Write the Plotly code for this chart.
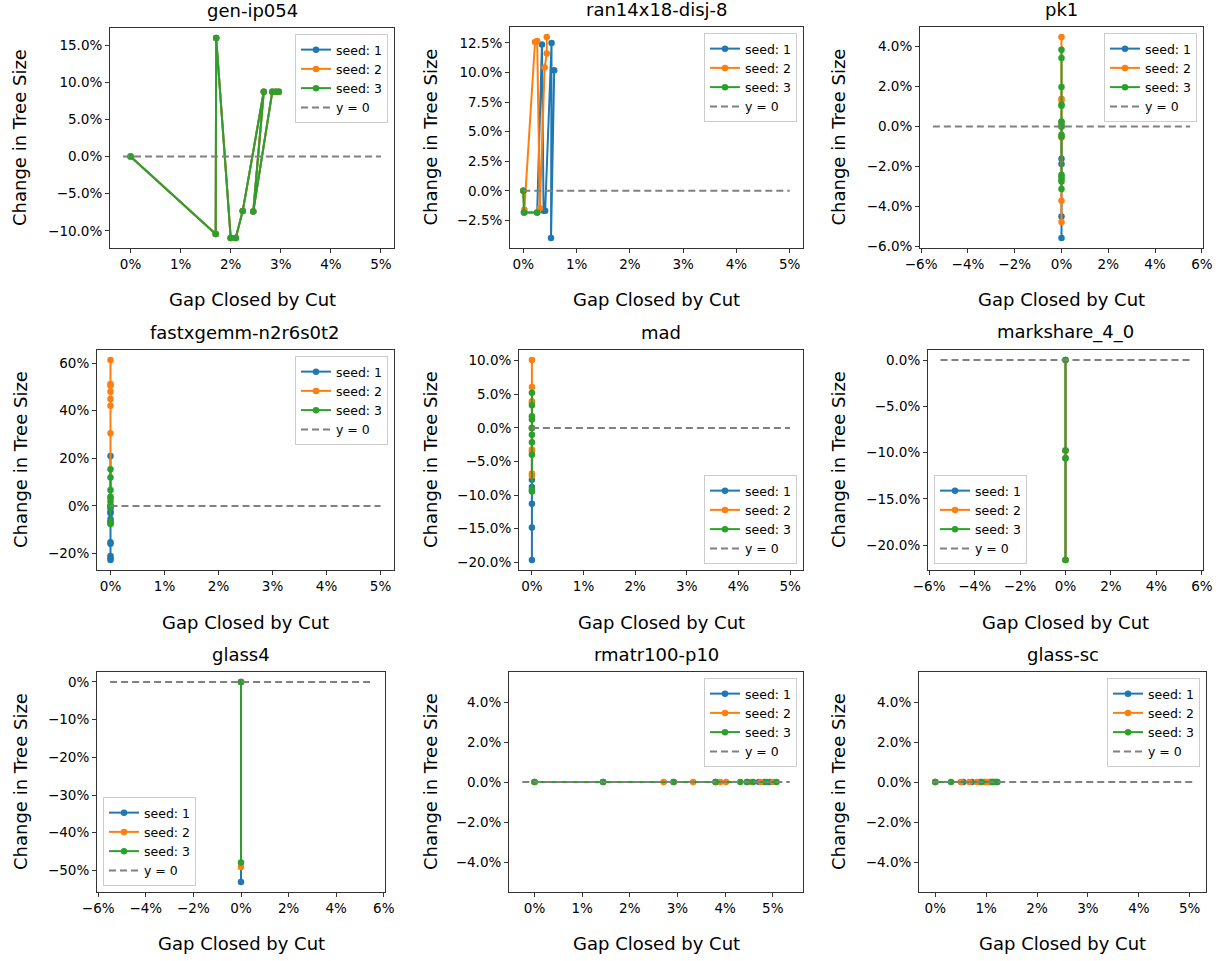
import plotly.graph_objects as go

# ---------------- data (percent units) ----------------
titles = ["gen-ip054", "ran14x18-disj-8", "pk1",
          "fastxgemm-n2r6s0t2", "mad", "markshare_4_0",
          "glass4", "rmatr100-p10", "glass-sc"]
seed_names = ["seed: 1", "seed: 2", "seed: 3"]
colors = ["#1f77b4", "#ff7f0e", "#2ca02c"]

# gen-ip054 (all seeds identical)
genip_x = [0.0, 1.70, 1.71, 2.00, 2.10, 2.24, 2.66, 2.45, 2.83, 2.90, 2.96]
genip_y = [0.0, -10.43, 15.94, -10.96, -10.96, -7.31, 8.73, -7.40, 8.73, 8.73, 8.73]

# ran14x18-disj-8
ran_s1_x = [0.0, 0.02, 0.26, 0.35, 0.38, 0.41, 0.53, 0.52, 0.58]
ran_s1_y = [0.0, -1.83, -1.83, 12.38, -1.69, -1.69, 12.50, -3.98, 10.19]
ran_s2_x = [0.0, 0.02, 0.22, 0.26, 0.31, 0.40, 0.44, 0.44]
ran_s2_y = [0.0, -1.60, 12.58, 12.66, -1.46, 10.42, 11.60, 13.00]
ran_s3_x = [0.0, 0.01, 0.26]
ran_s3_y = [0.0, -1.83, -1.83]

# pk1 (gap closed 0 for every cut)
pk1_s1_y = [0.0, -1.62, -1.88, -4.50, -5.58]
pk1_s2_y = [0.0, 4.47, 1.38, 1.30, -0.55, -3.72, -4.78]
pk1_s3_y = [0.0, 3.83, 3.42, 1.97, 1.08, 1.03, 0.25, 0.17, -0.42, -0.50,
            -2.42, -2.50, -2.63, -2.75, -3.13]

# fastxgemm-n2r6s0t2
fx_s1_y = [0.0, 21.0, -1.0, -2.4, -3.1, -5.5, -6.6, -15.2, -15.9, -21.0, -22.0, -22.7]
fx_s2_y = [0.0, 61.3, 51.2, 50.5, 48.0, 44.9, 42.1, 30.5]
fx_s3_y = [0.0, 15.4, 11.9, 6.7, 3.9, 3.2, 1.8, -0.3, -6.6, -7.3, -7.6]

# mad
mad_s1_y = [0.0, -7.7, -8.8, -11.3, -14.8, -19.65]
mad_s2_y = [0.0, 10.1, 6.07, 3.98, 3.73, -3.23, -3.48, -6.8, -7.1]
mad_s3_y = [0.0, 5.22, 3.38, 1.74, 1.24, -1.0, -2.14, -3.98, -9.2, -9.45]

# markshare_4_0 (all seeds identical)
mk_y = [0.0, -9.77, -10.6, -21.6]

# glass4
g4_s1_y = [0.0, -53.1]
g4_s2_y = [0.0, -49.1]
g4_s3_y = [0.0, -47.9]

# rmatr100-p10 (tree size unchanged)
rm_s1_x = [0.0, 1.44, 2.92, 3.80, 4.46, 4.71, 4.83, 4.94]
rm_s2_x = [0.0, 2.71, 3.33, 3.90, 4.02, 4.55, 4.75, 5.01]
rm_s3_x = [0.0, 1.44, 2.92, 3.80, 4.32, 4.46, 4.59, 4.87, 5.08]

# glass-sc (tree size unchanged)
gs_s1_x = [0.0, 0.55, 0.72, 0.88, 0.98, 1.08, 1.15, 1.22]
gs_s2_x = [0.0, 0.50, 0.67, 0.82, 0.90, 0.97, 1.03, 1.08, 1.13]
gs_s3_x = [0.0, 0.31, 0.91, 1.12, 1.18, 1.20]

# tick values per panel
x_ticks_pos = [0, 1, 2, 3, 4, 5]
x_ticks_sym = [-6, -4, -2, 0, 2, 4, 6]
y_ticks = [
    [-10, -5, 0, 5, 10, 15],
    [-2.5, 0, 2.5, 5, 7.5, 10, 12.5],
    [-6, -4, -2, 0, 2, 4],
    [-20, 0, 20, 40, 60],
    [-20, -15, -10, -5, 0, 5, 10],
    [-20, -15, -10, -5, 0],
    [-50, -40, -30, -20, -10, 0],
    [-4, -2, 0, 2, 4],
    [-4, -2, 0, 2, 4],
]
y_dec = [1, 1, 1, 0, 1, 1, 0, 1, 1]


def zeros_like(v):
    return [0.0 for _ in v]


panels = [
    [(genip_x, genip_y), (genip_x, genip_y), (genip_x, genip_y)],
    [(ran_s1_x, ran_s1_y), (ran_s2_x, ran_s2_y), (ran_s3_x, ran_s3_y)],
    [(zeros_like(pk1_s1_y), pk1_s1_y), (zeros_like(pk1_s2_y), pk1_s2_y), (zeros_like(pk1_s3_y), pk1_s3_y)],
    [(zeros_like(fx_s1_y), fx_s1_y), (zeros_like(fx_s2_y), fx_s2_y), (zeros_like(fx_s3_y), fx_s3_y)],
    [(zeros_like(mad_s1_y), mad_s1_y), (zeros_like(mad_s2_y), mad_s2_y), (zeros_like(mad_s3_y), mad_s3_y)],
    [(zeros_like(mk_y), mk_y), (zeros_like(mk_y), mk_y), (zeros_like(mk_y), mk_y)],
    [(zeros_like(g4_s1_y), g4_s1_y), (zeros_like(g4_s2_y), g4_s2_y), (zeros_like(g4_s3_y), g4_s3_y)],
    [(rm_s1_x, zeros_like(rm_s1_x)), (rm_s2_x, zeros_like(rm_s2_x)), (rm_s3_x, zeros_like(rm_s3_x))],
    [(gs_s1_x, zeros_like(gs_s1_x)), (gs_s2_x, zeros_like(gs_s2_x)), (gs_s3_x, zeros_like(gs_s3_x))],
]

# y = 0 reference line extents (x)
zero_line_x = [(-0.15, 5.0), (0.0, 5.0), (-5.5, 5.5),
               (0.0, 5.0), (0.0, 5.0), (-5.5, 5.5),
               (-5.5, 5.5), (-0.255, 5.355), (-0.06, 5.06)]

# ---------------- layout geometry (pixels) ----------------
W, H = 1225, 961
boxes = [  # left, right, top, bottom
    (110, 394, 28, 248), (510, 803, 27, 248), (920, 1203, 27, 248),
    (97, 394, 350, 570), (519, 803, 350, 570), (928, 1203, 350, 570),
    (97, 385, 672, 892), (509, 803, 672, 892), (919, 1206, 672, 892),
]
x_ranges = [(-0.41, 5.26), (-0.25, 5.25), (-6.05, 6.05),
            (-0.25, 5.25), (-0.25, 5.25), (-6.05, 6.05),
            (-6.05, 6.05), (-0.535, 5.635), (-0.32, 5.32)]
y_ranges = [(-12.3, 17.29), (-4.83, 13.85), (-6.08, 4.97),
            (-26.9, 65.5), (-21.14, 11.59), (-22.68, 1.08),
            (-55.75, 2.65), (-5.5, 5.5), (-5.5, 5.5)]
legend_pos = ["ur", "ur", "ur", "ur", "lr", "ll", "ll", "ur", "ur"]
ytitle_x = [20, 430, 838]
xtitle_y = [300, 622, 943]

FONT = "DejaVu Sans"
MINUS = "\u2212"


def fmt(v, dec):
    s = f"{abs(v):.{dec}f}%"
    return (MINUS + s) if v < 0 else s


fig = go.Figure()
layout = dict(width=W, height=H,
              margin=dict(l=0, r=0, t=0, b=0, pad=0, autoexpand=False),
              paper_bgcolor="white", plot_bgcolor="white", template="none",
              font=dict(family=FONT, color="black"), annotations=[])

for i in range(9):
    n = i + 1
    xa = "x" if n == 1 else f"x{n}"
    ya = "y" if n == 1 else f"y{n}"
    lg = "legend" if n == 1 else f"legend{n}"
    for s in range(3):
        xs, ys = panels[i][s]
        fig.add_trace(go.Scatter(
            x=xs, y=ys, mode="lines+markers", name=seed_names[s],
            line=dict(color=colors[s], width=2),
            marker=dict(color=colors[s], size=6.5),
            xaxis=xa, yaxis=ya, legend=lg, showlegend=True))
    zx0, zx1 = zero_line_x[i]
    fig.add_trace(go.Scatter(
        x=[zx0, zx1], y=[0, 0], mode="lines", name="y = 0",
        line=dict(color="gray", width=2, dash="7px,4px"),
        xaxis=xa, yaxis=ya, legend=lg, showlegend=True))

    l, r, t, b = boxes[i]
    xd = [l / W, r / W]
    yd = [1 - b / H, 1 - t / H]
    xt = x_ticks_sym if x_ranges[i][0] < -1 else x_ticks_pos
    axis_common = dict(showline=True, mirror=True, linecolor="#333333", linewidth=1,
                       ticks="outside", ticklen=4, tickwidth=1, tickcolor="#333333",
                       showgrid=False, zeroline=False, automargin=False,
                       tickfont=dict(family=FONT, size=13.5, color="black"))
    layout["xaxis" if n == 1 else f"xaxis{n}"] = dict(
        domain=xd, range=list(x_ranges[i]), anchor=ya,
        tickmode="array", tickvals=xt, ticktext=[fmt(v, 0) for v in xt],
        **axis_common)
    layout["yaxis" if n == 1 else f"yaxis{n}"] = dict(
        domain=yd, range=list(y_ranges[i]), anchor=xa,
        tickmode="array", tickvals=y_ticks[i],
        ticktext=[fmt(v, y_dec[i]) for v in y_ticks[i]],
        **axis_common)

    pos = legend_pos[i]
    pad = 6
    if pos == "ur":
        lgd = dict(x=(r - pad) / W, y=1 - (t + pad) / H, xanchor="right", yanchor="top")
    elif pos == "lr":
        lgd = dict(x=(r - pad) / W, y=1 - (b - pad) / H, xanchor="right", yanchor="bottom")
    else:
        lgd = dict(x=(l + pad) / W, y=1 - (b - pad) / H, xanchor="left", yanchor="bottom")
    lgd.update(bgcolor="rgba(255,255,255,0.8)", bordercolor="#cccccc", borderwidth=1,
               font=dict(family=FONT, size=12.5, color="black"),
               itemwidth=30, tracegroupgap=0)
    layout[lg] = lgd

    cx = (l + r) / 2 / W
    layout["annotations"].append(dict(
        text=titles[i], x=cx, y=1 - (t - 5) / H, xref="paper", yref="paper",
        xanchor="center", yanchor="bottom", showarrow=False,
        font=dict(family=FONT, size=18, color="black")))
    row, col = i // 3, i % 3
    layout["annotations"].append(dict(
        text="Gap Closed by Cut", x=cx, y=1 - xtitle_y[row] / H, xref="paper", yref="paper",
        xanchor="center", yanchor="middle", showarrow=False,
        font=dict(family=FONT, size=18, color="black")))
    layout["annotations"].append(dict(
        text="Change in Tree Size", x=ytitle_x[col] / W, y=1 - (t + b) / 2 / H,
        xref="paper", yref="paper", xanchor="center", yanchor="middle",
        textangle=-90, showarrow=False,
        font=dict(family=FONT, size=18, color="black")))

fig.update_layout(**layout)
fig.write_html("out.html", config={"displayModeBar": False},
               post_script="document.body.style.margin='0px';document.body.style.overflow='hidden';")
